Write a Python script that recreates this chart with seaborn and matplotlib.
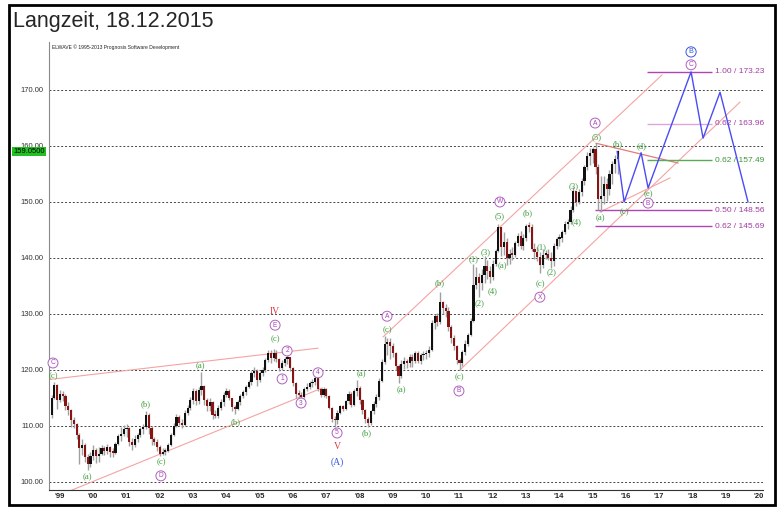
import numpy as np
import pandas as pd
import seaborn as sns
import matplotlib as mpl
mpl.use('Agg')
import matplotlib.pyplot as plt
from matplotlib.patches import Rectangle
import matplotlib.transforms as mtransforms

# monthly bars, Dec 1998 .. Dec 2015
first_open = 112.0
close = [115.0,
    117.3, 114.6, 115.8, 115.4, 113.6, 112.9, 111.0, 110.4, 108.4, 106.0, 106.6, 104.4,   # 1999
    103.2, 104.6, 105.8, 104.6, 105.0, 106.0, 105.6, 106.2, 105.4, 105.2, 106.8, 108.2,   # 2000
    108.6, 109.4, 109.6, 107.2, 106.6, 107.6, 108.4, 109.4, 109.8, 112.0, 109.6, 107.6,   # 2001
    107.2, 106.2, 105.0, 105.4, 105.6, 106.6, 108.4, 110.0, 111.6, 110.6, 110.2, 112.4,   # 2002
    113.2, 114.6, 116.2, 114.4, 116.4, 117.2, 114.6, 113.6, 114.2, 112.0, 111.8, 113.2,   # 2003
    114.2, 115.6, 116.2, 115.0, 113.4, 113.0, 114.2, 115.4, 116.0, 117.0, 117.8, 119.4,   # 2004
    119.8, 118.2, 119.4, 120.0, 121.8, 123.0, 122.2, 123.0, 122.0, 120.4, 121.2, 122.0,   # 2005
    122.3, 120.4, 117.6, 115.8, 115.6, 115.2, 116.6, 117.0, 117.6, 117.8, 118.6, 116.6,   # 2006
    115.6, 116.6, 115.4, 113.2, 111.2, 111.0, 112.4, 113.6, 113.0, 114.4, 115.8, 113.8,   # 2007
    116.2, 116.8, 114.6, 112.8, 111.2, 110.6, 112.6, 114.0, 115.2, 118.0, 121.4, 124.6,   # 2008
    125.0, 124.2, 123.0, 120.8, 119.0, 121.0, 121.6, 121.2, 122.4, 121.6, 123.0, 121.6,   # 2009
    122.6, 122.8, 123.0, 123.6, 128.4, 129.6, 128.6, 132.2, 131.0, 130.6, 127.6, 125.8,   # 2010
    124.2, 121.8, 121.2, 123.2, 124.6, 126.2, 128.8, 135.2, 136.6, 135.6, 137.0, 138.6,   # 2011
    137.6, 136.6, 139.0, 141.2, 145.6, 142.0, 142.8, 140.0, 140.8, 140.6, 142.6, 144.0,   # 2012
    142.2, 143.6, 145.8, 145.6, 141.6, 141.0, 140.2, 138.8, 140.6, 140.8, 140.0, 139.4,   # 2013
    142.2, 143.4, 143.6, 144.6, 146.0, 146.4, 148.6, 152.0, 150.0, 151.8, 153.8, 156.2,   # 2014
    158.2, 158.8, 159.4, 156.2, 150.6, 151.0, 153.2, 152.4, 155.0, 156.8, 157.6, 159.05]  # 2015
high = [115.6,
    117.9, 117.5, 116.4, 116.2, 115.8, 114.2, 113.0, 111.6, 110.6, 108.8, 107.6, 107.0,
    105.0, 105.4, 106.6, 106.0, 106.2, 106.6, 106.4, 106.8, 106.4, 106.0, 107.2, 108.6,
    109.8, 110.2, 110.4, 109.8, 107.8, 108.4, 108.8, 109.8, 110.4, 112.6, 112.4, 110.0,
    108.0, 107.6, 106.6, 106.0, 106.0, 107.0, 108.8, 110.6, 112.2, 112.0, 111.2, 112.8,
    113.8, 115.2, 116.8, 116.6, 117.0, 119.6, 117.4, 115.0, 115.0, 114.4, 112.8, 113.8,
    114.8, 116.0, 116.8, 116.6, 115.0, 113.8, 114.6, 115.8, 116.4, 117.4, 118.2, 119.8,
    120.6, 120.2, 119.8, 120.6, 122.2, 123.6, 123.6, 123.8, 123.6, 122.2, 121.8, 122.4,
    122.8, 122.2, 120.6, 117.8, 116.4, 116.0, 117.0, 117.6, 118.0, 118.4, 119.2, 118.8,
    116.8, 117.0, 116.8, 115.6, 113.4, 111.8, 112.8, 113.8, 113.8, 114.6, 116.2, 116.0,
    116.6, 118.2, 117.2, 114.8, 113.0, 111.6, 112.8, 114.4, 115.8, 118.6, 122.0, 126.0,
    125.8, 125.8, 124.8, 123.2, 121.0, 121.8, 122.4, 122.0, 122.8, 122.8, 123.4, 123.4,
    123.0, 123.4, 123.6, 124.2, 129.0, 130.0, 130.2, 134.0, 132.4, 131.8, 131.2, 128.0,
    126.2, 124.4, 122.2, 123.6, 125.4, 126.6, 129.2, 139.0, 138.4, 137.4, 138.0, 140.4,
    139.6, 138.6, 139.6, 141.6, 146.0, 145.6, 144.6, 143.6, 141.6, 142.0, 143.0, 144.4,
    144.8, 144.2, 146.0, 146.4, 146.0, 142.6, 142.0, 141.0, 141.6, 141.4, 141.6, 141.0,
    142.6, 143.8, 144.2, 145.0, 146.6, 147.0, 149.2, 152.6, 152.0, 152.4, 154.2, 156.6,
    159.0, 159.6, 159.8, 160.6, 156.8, 154.6, 154.6, 154.2, 155.8, 157.4, 158.4, 159.3]
low = [111.4,
    114.9, 113.0, 114.2, 114.4, 112.8, 112.0, 109.8, 109.6, 107.6, 103.2, 104.8, 103.6,
    102.1, 102.6, 104.0, 103.4, 103.6, 104.8, 104.8, 105.0, 104.4, 104.4, 105.0, 106.6,
    107.4, 108.2, 108.0, 106.4, 105.8, 106.2, 107.2, 108.0, 108.6, 109.4, 108.6, 106.6,
    106.6, 105.6, 104.6, 104.8, 104.8, 105.4, 106.4, 108.2, 109.8, 110.2, 109.6, 110.0,
    112.0, 112.8, 114.0, 113.8, 114.0, 115.6, 113.8, 112.6, 112.6, 111.2, 111.4, 111.4,
    112.8, 113.6, 115.2, 114.6, 112.6, 112.2, 112.8, 113.8, 115.0, 115.6, 116.8, 117.4,
    118.8, 117.2, 117.8, 119.0, 119.6, 121.4, 121.2, 121.6, 121.4, 119.8, 120.0, 120.8,
    121.0, 119.8, 117.2, 115.0, 114.4, 114.2, 115.0, 116.2, 116.6, 117.0, 117.4, 116.2,
    115.2, 115.2, 115.0, 113.0, 110.8, 109.8, 110.4, 112.2, 112.6, 112.8, 114.0, 113.4,
    113.6, 115.4, 114.0, 112.2, 110.6, 109.8, 110.2, 112.2, 113.4, 114.6, 117.8, 121.0,
    122.6, 122.0, 122.4, 120.0, 117.6, 118.6, 120.2, 120.4, 120.6, 120.6, 121.2, 121.2,
    121.0, 121.8, 122.0, 122.4, 123.4, 127.4, 127.8, 128.2, 130.0, 129.4, 127.0, 124.8,
    123.6, 121.0, 120.0, 120.8, 122.6, 124.2, 126.0, 128.6, 134.4, 133.0, 134.2, 135.6,
    136.2, 135.6, 136.0, 138.6, 141.0, 140.4, 140.6, 138.8, 139.0, 139.6, 140.2, 142.2,
    141.6, 141.4, 143.0, 144.6, 141.2, 139.8, 139.4, 137.3, 138.2, 139.8, 139.6, 138.2,
    138.6, 141.6, 142.2, 142.8, 144.2, 145.2, 146.0, 148.2, 149.3, 149.6, 151.0, 153.0,
    155.8, 156.6, 157.0, 155.0, 148.6, 148.2, 149.6, 150.2, 151.2, 153.2, 155.2, 155.0]

# projected path (blue)
proj_t = [2015.94, 2016.15, 2016.66, 2016.87, 2018.16, 2018.52, 2019.03, 2019.87]
proj_p = [159.05, 150.0, 158.8, 152.5, 173.23, 161.4, 169.6, 150.0]

# trend / channel lines (start t, start p, end t, end p)
channels = [(1998.88, 118.3, 2006.96, 123.9),
            (1999.42, 98.2, 2007.09, 116.8),
            (2008.91, 125.9, 2017.29, 172.7),
            (2011.22, 120.0, 2019.63, 167.85),
            (2015.42, 148.2, 2017.53, 154.3)]
triangle_top = (2015.30, 160.5, 2017.77, 156.96)

# fibonacci targets
fib_ratio = ['1.00', '0.62', '0.62', '0.50', '0.62']
fib_level = [173.23, 163.96, 157.49, 148.56, 145.69]
fib_start = [2016.84, 2016.84, 2016.84, 2015.28, 2015.28]
fib_end = 2018.79
fib_line_col = ['#b044b0', '#dca6dc', '#5aaa5a', '#b044b0', '#b044b0']
fib_text_col = ['#a03ca0', '#a03ca0', '#3c963c', '#a03ca0', '#a03ca0']

# wave labels
green_txt = ['(c)', '(a)', '(b)', '(c)', '(a)', '(b)', '(c)', '(a)', '(b)', '(c)', '(a)',
             '(b)', '(c)', '(1)', '(2)', '(3)', '(4)', '(5)', '(a)', '(b)', '(1)', '(2)',
             '(c)', '(3)', '(4)', '(5)', '(a)', '(b)', '(d)', '(c)', '(e)']
green_t = [1999.0, 2000.02, 2001.79, 2002.24, 2003.44, 2004.47, 2005.67, 2008.25, 2008.43,
           2009.03, 2009.45, 2010.62, 2011.19, 2011.64, 2011.82, 2012.0, 2012.21, 2012.42,
           2012.48, 2013.26, 2013.68, 2013.98, 2013.65, 2014.62, 2014.71, 2015.31, 2015.43,
           2015.94, 2016.66, 2016.15, 2016.87]
green_p = [118.9, 100.9, 113.9, 103.6, 120.7, 110.7, 125.5, 119.3, 108.7, 127.1, 116.4,
           135.5, 118.7, 139.8, 132.0, 141.1, 134.1, 147.5, 138.6, 148.0, 142.0, 137.5,
           135.4, 152.9, 146.4, 161.6, 147.1, 160.4, 160.0, 148.2, 151.4]
circ_txt = ['C', 'D', 'E', '2', '1', '4', '3', '5', 'A', 'B', 'W', 'X', 'A', 'B', 'C']
circ_t = [1999.0, 2002.24, 2005.67, 2006.03, 2005.88, 2006.96, 2006.45, 2007.53, 2009.03,
          2011.19, 2012.42, 2013.62, 2015.28, 2016.87, 2018.16]
circ_p = [121.25, 101.1, 128.0, 123.4, 118.4, 119.5, 114.1, 108.75, 129.6, 116.25, 150.0,
          133.0, 164.1, 149.8, 174.5]

# ---------------------------------------------------------------
sns.set_style('white')
plt.rcParams['font.family'] = ['Liberation Sans', 'DejaVu Sans']

n = len(close)
t = 1998 + (11 + np.arange(n) + 0.5) / 12.0
opens = [first_open] + close[:-1]
df = pd.DataFrame({'t': t, 'open': opens, 'high': high, 'low': low, 'close': close})
df['up'] = df['close'] >= df['open']
df['body'] = np.maximum((df['close'] - df['open']).abs(), 0.3)
df['base'] = np.minimum(df['open'], df['close'])

fig = plt.figure(figsize=(7.78, 5.07), dpi=100)
ax = fig.add_axes([49 / 778, 17 / 507, 714 / 778, 448 / 507])
ax.set_xlim(1998.88, 2020.32)
ax.set_ylim(98.57, 178.57)

ax.set_yticks(range(100, 171, 10))
ax.set_yticklabels(['%.2f' % v for v in range(100, 171, 10)])
ax.grid(axis='y', ls=(0, (2, 2)), color='#444444', lw=0.7)
ax.tick_params(axis='y', length=0, pad=4, labelsize=5.5, labelcolor='#333333')

# candles
ax.vlines(df['t'], df['low'], df['high'], color='#a0a0a0', lw=1.0, zorder=2)
for up, col in [(True, '#111111'), (False, '#8a1414')]:
    d = df[df['up'] == up]
    ax.bar(d['t'], d['body'], bottom=d['base'], width=0.065, color=col, lw=0, zorder=3)

# channels
for (t0, p0, t1, p1) in channels:
    sns.lineplot(x=[t0, t1], y=[p0, p1], ax=ax, color='#f5a3a3', lw=0.8, zorder=1)
sns.lineplot(x=[triangle_top[0], triangle_top[2]], y=[triangle_top[1], triangle_top[3]],
             ax=ax, color='#e57a7a', lw=0.9, zorder=1)

# fib levels
for r, lv, st, lc, tc in zip(fib_ratio, fib_level, fib_start, fib_line_col, fib_text_col):
    ax.hlines(lv, st, fib_end, color=lc, lw=1.0, zorder=1)
    ax.text(fib_end + 0.08, lv, f'{r} / {lv:.2f}', color=tc, fontsize=6,
            va='center', ha='left')

# projection
sns.lineplot(x=proj_t, y=proj_p, ax=ax, sort=False, estimator=None,
             color='#4b4bf5', lw=1.0, zorder=4)

# labels
for s, x, y in zip(green_txt, green_t, green_p):
    ax.text(x, y, s, color='#3f9e3f', fontsize=6.2, ha='center', va='center',
            family='Liberation Serif', zorder=5)
for s, x, y in zip(circ_txt, circ_t, circ_p):
    ax.text(x, y, s, color='#a444b4', fontsize=4.8, ha='center', va='center', zorder=5,
            bbox=dict(boxstyle='circle,pad=0.22', fc='white', ec='#b060c0', lw=0.7))
ax.text(2018.16, 176.8, 'B', color='#3a55e0', fontsize=5.2, ha='center', va='center',
        bbox=dict(boxstyle='circle,pad=0.22', fc='white', ec='#3a55e0', lw=0.7))
ax.text(2005.67, 130.4, 'IV', color='#e03a3a', fontsize=7, ha='center', va='center',
        family='Liberation Serif')
ax.text(2007.53, 106.4, 'V', color='#e03a3a', fontsize=7, ha='center', va='center',
        family='Liberation Serif')
ax.text(2007.53, 103.6, '(A)', color='#3a55e0', fontsize=7, ha='center', va='center',
        family='Liberation Serif')

# last price box
trans = mtransforms.blended_transform_factory(ax.transAxes, ax.transData)
ax.text(-0.006, close[-1], '%.4f' % close[-1], transform=trans, ha='right', va='center',
        fontsize=5.5, color='black', zorder=6,
        bbox=dict(boxstyle='square,pad=0.12', fc='#22c022', ec='none'))

# x axis
years = list(range(1999, 2021))
ax.set_xticks(years)
ax.set_xticklabels([])
ax.set_xticks([y + m / 12 for y in range(1998, 2021) for m in range(12)
               if 1998.88 < y + m / 12 < 2020.32 and m != 0], minor=True)
ax.tick_params(axis='x', which='major', direction='out', length=7, width=0.8, color='#222222')
ax.tick_params(axis='x', which='minor', direction='out', length=2, width=0.5, color='#444444')
xtr = ax.get_xaxis_transform()
for y in years:
    ax.text(y + 0.04, -0.006, "'%02d" % (y % 100), transform=xtr, ha='left', va='top',
            fontsize=5.5, fontweight='bold', color='#222222')

for s in ['top', 'right']:
    ax.spines[s].set_visible(False)
ax.spines['left'].set_color('#8a8a8a')
ax.spines['bottom'].set_color('#333333')
ax.spines['bottom'].set_linewidth(0.8)
ax.set_xlabel('')
ax.set_ylabel('')

fig.text(13 / 778, 1 - 21 / 507, 'Langzeit, 18.12.2015', fontsize=15.5, va='center', ha='left',
         family='Liberation Sans')
fig.text(52 / 778, 1 - 47 / 507, 'ELWAVE \u00a9 1995-2013 Prognosis Software Development',
         fontsize=3.6, va='center', ha='left', color='#222222')
fig.patches.append(Rectangle((9 / 778, 2 / 507), 766 / 778, 500 / 507, transform=fig.transFigure,
                             fill=False, ec='black', lw=2))

fig.savefig('out.png', dpi=100)
